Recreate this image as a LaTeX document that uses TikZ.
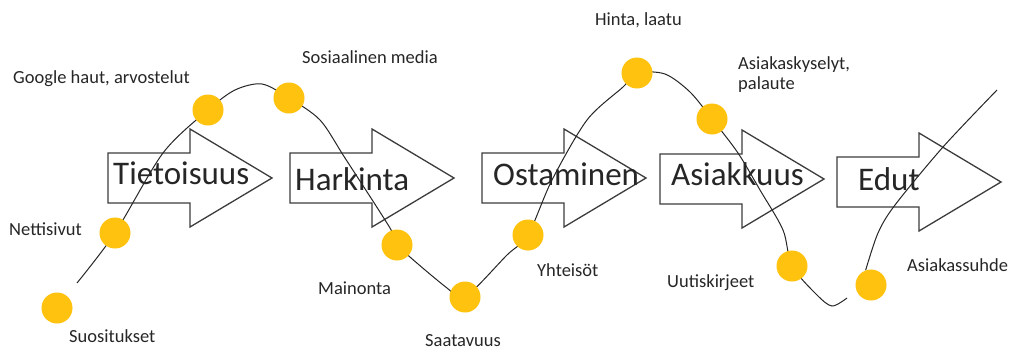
\documentclass[tikz,border=0pt]{standalone}
\usepackage{fontspec}
\setmainfont{Carlito}
\usepackage{tikz}
\usetikzlibrary{positioning, backgrounds}
\definecolor{dotgold}{RGB}{255,194,14}
\definecolor{ink}{RGB}{38,38,38}

\begin{document}
\begin{tikzpicture}[x=1pt, y=-1pt,
    phase/.style={draw=ink!90, line width=1.3pt, fill=white, line join=miter},
    phasetext/.style={anchor=base west, inner sep=0pt, text=ink, font=\fontsize{33}{33}\selectfont},
    lbl/.style={anchor=base west, inner sep=0pt, text=ink, align=left, font=\fontsize{18.5}{20}\selectfont},
    dot/.style={circle, fill=dotgold, minimum size=31pt, inner sep=0pt},
    wave/.style={line width=1pt, draw=ink},
    phasearrow/.pic={\draw[phase] (0,0) -- (82,0) -- (82,-24) -- (164,25) -- (82,74) -- (82,50) -- (0,50) -- cycle;}]
    \useasboundingbox (0,0) rectangle (1012,351);

    % Pisteet
    \node[dot] (suos)   at (57,308) {};
    \node[dot] (netti)  at (115,233) {};
    \node[dot] (google) at (208,110) {};
    \node[dot] (some)   at (289,98) {};
    \node[dot] (mainos) at (397,245) {};
    \node[dot] (saata)  at (465,297) {};
    \node[dot] (yhteis) at (528,235) {};
    \node[dot] (hinta)  at (637,73) {};
    \node[dot] (kysely) at (712,119) {};
    \node[dot] (uutis)  at (792,266) {};
    \node[dot] (suhde)  at (871,285) {};

    % Viivan päät
    \coordinate (wstart) at (77,283);
    \coordinate (wend)   at (847,298);
    \coordinate (wtop)   at (997,90);

    \begin{scope}[on background layer]
    % Vaiheet (nuolet)
    \pic at (108,153) {phasearrow};
    \pic at (290,153) {phasearrow};
    \pic at (482,153) {phasearrow};
    \pic at (660,154) {phasearrow};
    \pic at (837,157) {phasearrow};
    \node[phasetext] (tieto)  at (113,184) {Tietoisuus};
    \node[phasetext] (hark)   at (295,190) {Harkinta};
    \node[phasetext] (osto)   at (493,185) {Ostaminen};
    \node[phasetext] (asiak)  at (671,185) {Asiakkuus};
    \node[phasetext] (edut)   at (858,190) {Edut};

    % Aaltoviiva
    \draw[wave] plot[smooth] coordinates {(wstart) (netti.center) (163,153) (google.center)
        (235,90) (262,84) (some.center) (320,120) (345,158) (390,228) (mainos.center)
        (447,288) (saata.center) (507,255) (yhteis.center) (552,180) (587,120) (623,87)
        (hinta.center) (665,74) (690,92) (kysely.center) (738,153) (760,190) (783,230)
        (uutis.center) (817,295) (832,306) (wend)};
    \draw[wave] plot[smooth] coordinates {(suhde.110) (878,233) (895,205) (943,147) (wtop)};
    \end{scope}

    % Tekstit
    \node[lbl] (lgoogle) at (13,83)  {Google haut, arvostelut};
    \node[lbl] (lnetti)  at (9,235)  {Nettisivut};
    \node[lbl] (lsuos)   at (69,342) {Suositukset};
    \node[lbl] (lsome)   at (302,63) {Sosiaalinen media};
    \node[lbl] (lmainos) at (318,294) {Mainonta};
    \node[lbl] (lsaata)  at (425,346) {Saatavuus};
    \node[lbl] (lyhteis) at (537,276) {Yhteisöt};
    \node[lbl] (lhinta)  at (595,25)  {Hinta, laatu};
    \node[lbl] (lkysely) at (738,89)  {Asiakaskyselyt,\\palaute};
    \node[lbl] (luutis)  at (667,287) {Uutiskirjeet};
    \node[lbl] (lsuhde)  at (907,271) {Asiakassuhde};
\end{tikzpicture}
\end{document}
